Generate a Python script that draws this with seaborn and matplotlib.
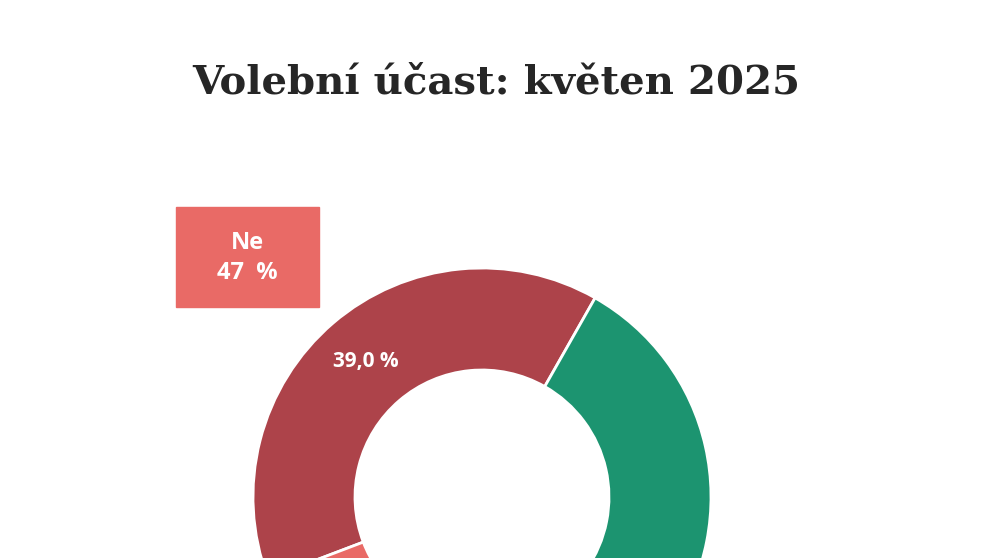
import matplotlib
matplotlib.use("Agg")
import matplotlib.pyplot as plt
import seaborn as sns
from matplotlib.patches import Rectangle

sns.set_theme(style="white")

labels = ["Ne (39,0 %)", "Ne (zbytek)", "Ano"]
values = [39.0, 8.0, 53.0]
colors = ["#ad434a", "#e96a66", "#1c9470"]
title = "Volební účast: květen 2025"
box_text = "Ne\n47  %"
seg_label = "39,0 %"

fig = plt.figure(figsize=(9.91, 5.58), dpi=100)
ax = fig.add_axes([0, 0, 1, 1])
ax.set_xlim(0, 991)
ax.set_ylim(0, 558)
ax.set_aspect("equal")
ax.axis("off")

ax.pie(values, colors=colors, startangle=60.4, counterclock=True,
       center=(482, 61), radius=229, frame=True,
       wedgeprops=dict(width=102, edgecolor="white", linewidth=2))
ax.set_xlim(0, 991)
ax.set_ylim(0, 558)
ax.axis("off")

ax.text(366, 558 - 362, seg_label, color="white", fontsize=15, fontweight="bold",
        family="Open Sans", ha="center", va="center")
ax.add_patch(Rectangle((176, 558 - 307), 143, 100, color="#e96a66", zorder=3))
ax.text(247.5, 558 - 258, box_text, color="white", fontsize=17, fontweight="bold",
        family="Open Sans", ha="center", va="center", linespacing=1.3, zorder=4)
ax.text(496, 558 - 82, title, fontsize=29, fontweight="bold", family="DejaVu Serif",
        ha="center", va="center")

fig.savefig("out.png", dpi=100)
